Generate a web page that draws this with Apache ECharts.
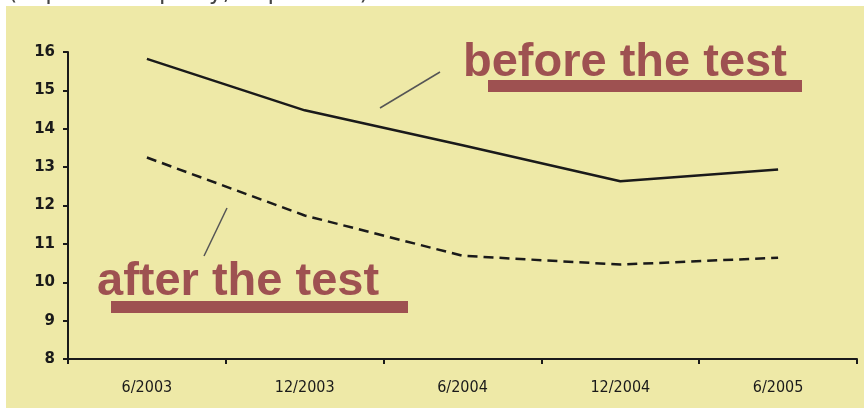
<!DOCTYPE html>
<html>
<head>
<meta charset="utf-8">
<script src="https://cdn.jsdelivr.net/npm/echarts@6/dist/echarts.min.js"></script>
<style>
html,body{margin:0;padding:0;background:#ffffff;}
#chart{width:864px;height:408px;}
</style>
</head>
<body>
<div id="chart"></div>
<script>
var categories = ['6/2003', '12/2003', '6/2004', '12/2004', '6/2005'];
var beforeTest = [15.82, 14.48, 13.57, 12.63, 12.94];
var afterTest = [13.25, 11.74, 10.69, 10.46, 10.64];
var yTicks = [8, 9, 10, 11, 12, 13, 14, 15, 16];

var chart = echarts.init(document.getElementById('chart'), null, {renderer: 'canvas'});
var annColor = '#9E5151';
chart.setOption({
  animation: false,
  backgroundColor: '#ffffff',
  grid: {left: 68, right: 7, top: 52, bottom: 49, containLabel: false},
  xAxis: {
    type: 'category',
    data: categories,
    boundaryGap: true,
    axisLine: {lineStyle: {color: '#1a1a1a', width: 2}},
    axisTick: {show: true, inside: false, length: 5, lineStyle: {color: '#1a1a1a', width: 2}},
    axisLabel: {color: '#1a1a1a', fontFamily: 'DejaVu Sans Condensed', fontSize: 16, margin: 21}
  },
  yAxis: {
    type: 'value',
    min: yTicks[0],
    max: yTicks[yTicks.length - 1],
    interval: 1,
    splitLine: {show: false},
    axisLine: {show: true, lineStyle: {color: '#1a1a1a', width: 2}},
    axisTick: {show: true, inside: false, length: 5, lineStyle: {color: '#1a1a1a', width: 2}},
    axisLabel: {color: '#1a1a1a', fontFamily: 'DejaVu Sans', fontWeight: 'bold', fontSize: 15, margin: 13}
  },
  graphic: [
    {type: 'rect', z: -10, silent: true, shape: {x: 6, y: 6, width: 858, height: 402}, style: {fill: '#EEE9A7'}},
    {type: 'text', z: 10, silent: true, left: 8, top: -19, style: {text: '(capital adequacy, in percent)', fill: '#444', font: '24px "DejaVu Sans"'}},
    {type: 'line', z: 10, silent: true, shape: {x1: 380, y1: 108, x2: 440, y2: 72}, style: {stroke: '#555', lineWidth: 1.5}},
    {type: 'line', z: 10, silent: true, shape: {x1: 227, y1: 208, x2: 204, y2: 256}, style: {stroke: '#555', lineWidth: 1.5}},
    {type: 'text', z: 10, silent: true, x: 463, y: 63, style: {text: 'before the test', fill: annColor, font: 'bold 47px "Liberation Sans"', textVerticalAlign: 'middle'}},
    {type: 'rect', z: 10, silent: true, shape: {x: 488, y: 80, width: 314, height: 12}, style: {fill: annColor}},
    {type: 'text', z: 10, silent: true, x: 97, y: 282, style: {text: 'after the test', fill: annColor, font: 'bold 47px "Liberation Sans"', textVerticalAlign: 'middle'}},
    {type: 'rect', z: 10, silent: true, shape: {x: 111, y: 301, width: 297, height: 12}, style: {fill: annColor}}
  ],
  series: [
    {type: 'line', name: 'before the test', data: beforeTest, symbol: 'none', lineStyle: {color: '#1a1a1a', width: 2.5, type: 'solid'}},
    {type: 'line', name: 'after the test', data: afterTest, symbol: 'none', lineStyle: {color: '#1a1a1a', width: 2.5, type: [10, 6]}}
  ]
});
</script>
</body>
</html>
